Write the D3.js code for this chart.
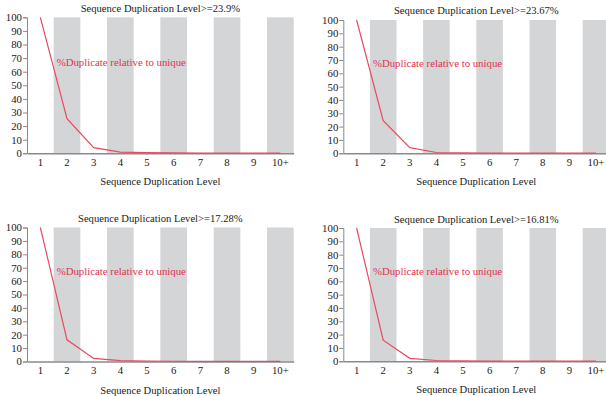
<!DOCTYPE html>
<html>
<head>
<meta charset="utf-8">
<script src="https://cdn.jsdelivr.net/npm/d3@7"></script>
<style>
  body { margin: 0; background: #fff; }
  svg { display: block; }
  svg text { font-family: "Liberation Serif", "Times New Roman", serif !important; }
</style>
</head>
<body>
<svg width="606" height="396"></svg>
<script>
// categories on the x axis
var levels = ["1", "2", "3", "4", "5", "6", "7", "8", "9", "10+"];
var yTicks = [0, 10, 20, 30, 40, 50, 60, 70, 80, 90, 100];

// % duplicate relative to unique, one array per sample
var sampleA = [100, 25.5, 4.2, 0.9, 0.5, 0.3, 0.2, 0.2, 0.1, 0.2];
var sampleB = [100, 24.5, 4.2, 0.6, 0.3, 0.2, 0.1, 0.1, 0.1, 0.1];
var sampleC = [100, 16.2, 2.3, 0.7, 0.3, 0.2, 0.1, 0.1, 0.1, 0.1];
var sampleD = [100, 15.8, 2.2, 0.6, 0.3, 0.2, 0.1, 0.1, 0.1, 0.1];

var titles = ["Sequence Duplication Level>=23.9%", "Sequence Duplication Level>=23.67%",
              "Sequence Duplication Level>=17.28%", "Sequence Duplication Level>=16.81%"];

// panel boxes (left, top, width, height)
var panels = [
    { data: sampleA, title: titles[0], x: 27, y: 17.3, w: 266.7, h: 136, titleY: 12 },
    { data: sampleB, title: titles[1], x: 343.3, y: 20, w: 266, h: 133.3, titleY: 14 },
    { data: sampleC, title: titles[2], x: 27, y: 227.5, w: 266.7, h: 134, titleY: 222 },
    { data: sampleD, title: titles[3], x: 343.3, y: 228, w: 266, h: 133.3, titleY: 223 }
];

var svg = d3.select("svg");

panels.forEach(function (p) {
    var g = svg.append("g")
        .attr("transform", "translate(" + p.x + "," + p.y + ")");

    var x = d3.scaleBand()
        .domain(levels)
        .range([0, p.w]);

    var y = d3.scaleLinear()
        .domain([0, 100])
        .range([p.h, 0]);

    // alternating grey bands on even levels
    g.selectAll("rect.band")
        .data(levels.filter(function (d, i) { return i % 2 == 1; }))
        .enter()
        .append("rect")
        .attr("class", "band")
        .attr("x", function (d) { return x(d); })
        .attr("y", 0)
        .attr("width", x.bandwidth())
        .attr("height", p.h)
        .attr("fill", "#d4d5d7");

    // y axis
    var yAxis = g.append("g")
        .call(d3.axisLeft(y).tickValues(yTicks).tickSize(4).tickSizeOuter(4));
    yAxis.selectAll("path, line").attr("stroke", "#8a8a8a");
    yAxis.selectAll("text")
        .attr("font-size", 10.8)
        .attr("fill", "#1a1a1a")
        .attr("x", -5);

    // x axis
    var xAxis = g.append("g")
        .attr("transform", "translate(0," + p.h + ")")
        .call(d3.axisBottom(x).tickSize(0).tickSizeOuter(0).tickPadding(5));
    xAxis.select("path").attr("stroke", "#8a8a8a").attr("stroke-width", 1.5);
    xAxis.selectAll("text")
        .attr("font-size", 10.8)
        .attr("fill", "#1a1a1a");

    // line
    var line = d3.line()
        .x(function (d, i) { return x(levels[i]) + x.bandwidth() / 2; })
        .y(function (d) { return y(d); });

    g.append("path")
        .datum(p.data)
        .attr("fill", "none")
        .attr("stroke", "#e84a63")
        .attr("stroke-width", 1.2)
        .attr("d", line);

    g.append("text")
        .attr("x", x("2") + 3)
        .attr("y", y(64.5))
        .attr("font-size", 10.8)
        .attr("fill", "#e0334f")
        .text("%Duplicate relative to unique");

    // titles
    svg.append("text")
        .attr("x", p.x + p.w / 2)
        .attr("y", p.titleY)
        .attr("text-anchor", "middle")
        .attr("font-size", 10.6)
        .attr("fill", "#1a1a1a")
        .text(p.title);

    svg.append("text")
        .attr("x", p.x + p.w / 2)
        .attr("y", p.y + p.h + 32)
        .attr("text-anchor", "middle")
        .attr("font-size", 10.6)
        .attr("fill", "#1a1a1a")
        .text("Sequence Duplication Level");
});
</script>
</body>
</html>
